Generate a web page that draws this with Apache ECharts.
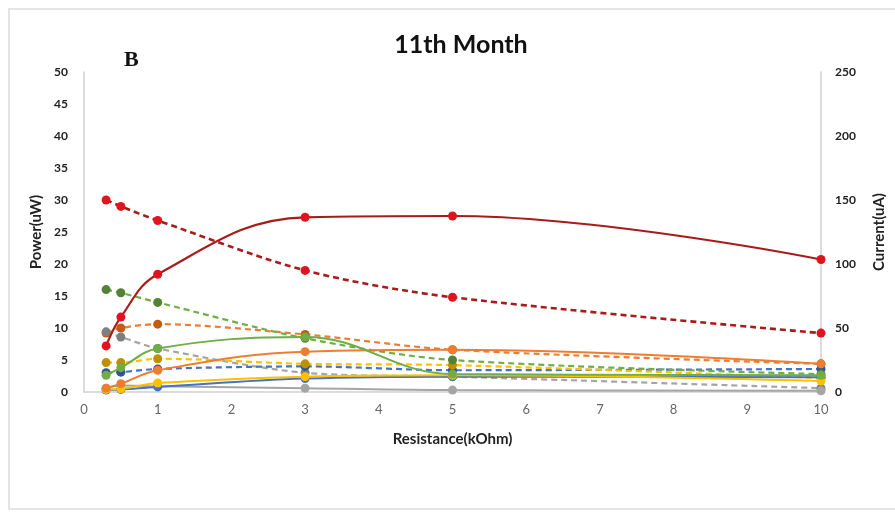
<!DOCTYPE html>
<html>
<head>
<meta charset="utf-8">
<script src="https://cdn.jsdelivr.net/npm/echarts@6/dist/echarts.min.js"></script>
<style>
  html, body { margin: 0; padding: 0; background: #ffffff; overflow: hidden; width: 895px; height: 513px; }
  #frame { position: absolute; left: 8px; top: 8px; width: 887px; height: 502px; border: 2px solid #e4e4e4; border-right: none; box-sizing: border-box; }
  #main { position: absolute; left: 0; top: 0; width: 895px; height: 513px; }
</style>
</head>
<body>
<div id="frame"></div>
<div id="main"></div>
<script>
// Resistance (kOhm)
const resistance = [0.3, 0.5, 1, 3, 5, 10];
const xTicks = [0, 1, 2, 3, 4, 5, 6, 7, 8, 9, 10];
const powerTicks = [0, 5, 10, 15, 20, 25, 30, 35, 40, 45, 50];
const currentTicks = [0, 50, 100, 150, 200, 250];

// Power (uW) - solid lines, left axis
const powerBlue   = [0.3, 0.4, 0.8, 2.1, 2.4, 2.3];
const powerGray   = [0.6, 1.0, 0.9, 0.6, 0.3, 0.2];
const powerYellow = [0.4, 0.5, 1.4, 2.4, 2.6, 1.7];
const powerOrange = [0.6, 1.3, 3.4, 6.3, 6.6, 4.4];
const powerGreen  = [2.6, 3.8, 6.8, 8.6, 2.8, 2.6];
const powerRed    = [7.2, 11.7, 18.4, 27.3, 27.5, 20.7];

// Current (uA) - dashed lines, right axis
const currentBlue   = [15, 15.5, 18, 20, 17, 18];
const currentGray   = [47, 43, 34, 15, 12, 3];
const currentYellow = [23, 23, 26, 22, 21, 11];
const currentOrange = [46, 50, 53, 45, 33, 22];
const currentGreen  = [80, 77.5, 70, 42, 25, 14];
const currentRed    = [150, 145, 134, 95, 74, 46];

const colors = {
  blue:   { line: '#4472c4', dot: '#4472c4', dotD: '#2f5597' },
  gray:   { line: '#a5a5a5', dot: '#a5a5a5', dotD: '#7f7f7f' },
  yellow: { line: '#ffc000', dot: '#ffc000', dotD: '#bf9000' },
  orange: { line: '#ed7d31', dot: '#ed7d31', dotD: '#c55a11' },
  green:  { line: '#70ad47', dot: '#70ad47', dotD: '#548235' },
  red:    { line: '#a81b1b', dot: '#e0141e', dotD: '#e0141e' }
};

function pts(vals) { return resistance.map((x, i) => [x, vals[i]]); }

function solid(name, vals, c) {
  return {
    name: name, type: 'line', yAxisIndex: 0, data: pts(vals), smooth: 0.4,
    symbol: 'circle', symbolSize: 9,
    lineStyle: { color: c.line, width: 2 },
    itemStyle: { color: c.dot },
    z: 3
  };
}
function dashed(name, vals, c) {
  return {
    name: name, type: 'line', yAxisIndex: 1, data: pts(vals), smooth: 0.3,
    symbol: 'circle', symbolSize: 9,
    lineStyle: { color: c.line, width: 2.2, type: [6, 4] },
    itemStyle: { color: c.dotD },
    z: 2
  };
}

const series = [
  dashed('Current Orange', currentOrange, colors.orange),
  dashed('Current Gray', currentGray, colors.gray),
  dashed('Current Blue', currentBlue, colors.blue),
  dashed('Current Yellow', currentYellow, colors.yellow),
  dashed('Current Green', currentGreen, colors.green),
  solid('Power Gray', powerGray, colors.gray),
  solid('Power Blue', powerBlue, colors.blue),
  solid('Power Yellow', powerYellow, colors.yellow),
  solid('Power Orange', powerOrange, colors.orange),
  solid('Power Green', powerGreen, colors.green),
  dashed('Current Red', currentRed, colors.red),
  solid('Power Red', powerRed, colors.red)
];
series[10].z = 4; series[10].lineStyle.width = 2.6;
series[11].z = 5; series[11].lineStyle.width = 2.2;

const chart = echarts.init(document.getElementById('main'), null, { renderer: 'canvas' });
chart.setOption({
  animation: false,
  backgroundColor: 'transparent',
  title: [
    { text: '11th Month', left: 456, top: 27, textAlign: 'center',
      textStyle: { fontFamily: 'Lato', fontWeight: 'bold', fontSize: 25, color: '#111' } },
    { text: 'B', left: 119, top: 44,
      textStyle: { fontFamily: 'Liberation Serif', fontWeight: 'bold', fontSize: 22, color: '#111' } }
  ],
  grid: { left: 84, right: 73, top: 72, bottom: 121, containLabel: false },
  xAxis: {
    type: 'value', min: 0, max: 10, interval: 1,
    name: 'Resistance(kOhm)', nameLocation: 'middle', nameGap: 40,
    nameTextStyle: { fontFamily: 'Lato', fontWeight: 'bold', fontSize: 15, color: '#222' },
    axisLine: { show: true, lineStyle: { color: '#d0d0d0', width: 1.5 } },
    axisTick: { show: false },
    splitLine: { show: false },
    axisLabel: { margin: 11, fontFamily: 'Liberation Sans Narrow, Lato', fontSize: 13, color: '#666',
      formatter: v => xTicks.includes(v) ? String(v) : '' }
  },
  yAxis: [
    {
      type: 'value', min: 0, max: 50, interval: 5, position: 'left',
      name: 'Power(uW)', nameLocation: 'middle', nameGap: 40, nameRotate: 90,
      nameTextStyle: { fontFamily: 'Lato', fontWeight: 'bold', fontSize: 15, color: '#222' },
      axisLine: { show: true, lineStyle: { color: '#d0d0d0', width: 1.5 } },
      axisTick: { show: false }, splitLine: { show: false },
      axisLabel: { margin: 16, fontFamily: 'Lato', fontWeight: 'bold', fontSize: 12, color: '#222',
        formatter: v => powerTicks.includes(v) ? String(v) : '' }
    },
    {
      type: 'value', min: 0, max: 250, interval: 50, position: 'right',
      name: 'Current(uA)', nameLocation: 'middle', nameGap: 51, nameRotate: 90,
      nameTextStyle: { fontFamily: 'Lato', fontWeight: 'bold', fontSize: 15, color: '#222' },
      axisLine: { show: true, lineStyle: { color: '#d0d0d0', width: 1.5 } },
      axisTick: { show: false }, splitLine: { show: false },
      axisLabel: { margin: 14, fontFamily: 'Lato', fontWeight: 'bold', fontSize: 12, color: '#222',
        formatter: v => currentTicks.includes(v) ? String(v) : '' }
    }
  ],
  series: series
});
</script>
</body>
</html>
